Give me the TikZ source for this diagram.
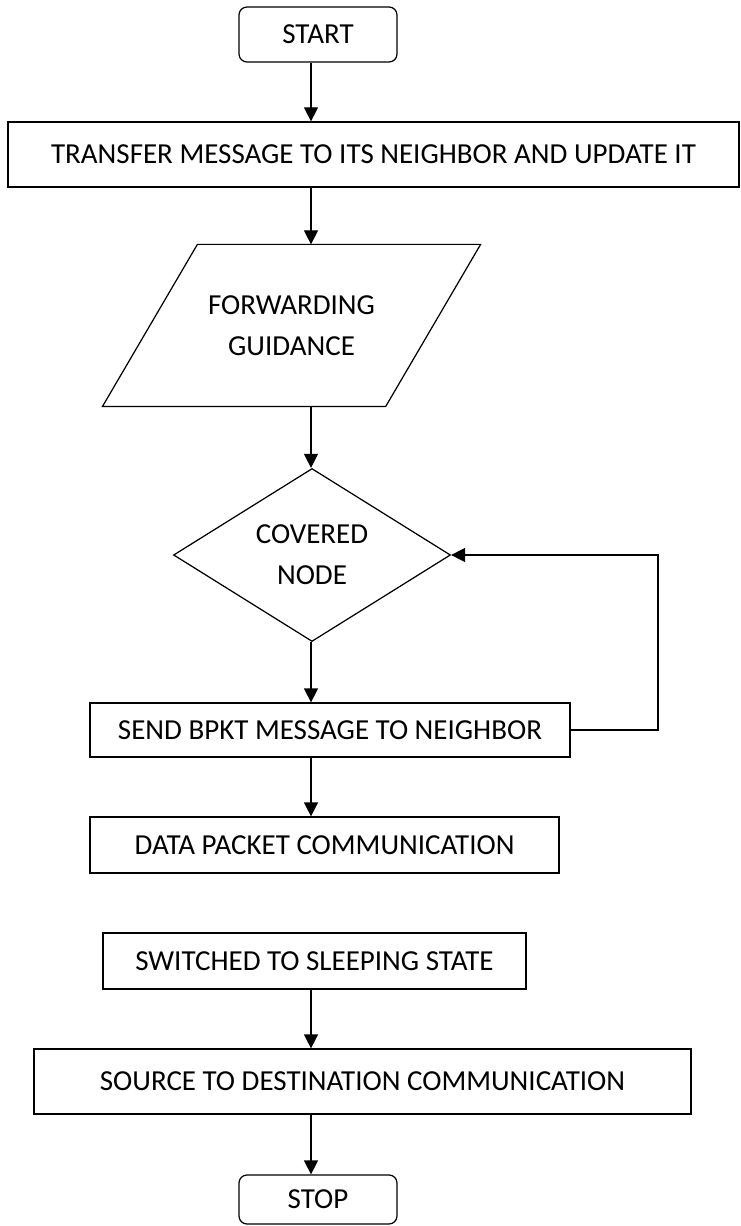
\documentclass[tikz,border=0pt]{standalone}
\usepackage{fontspec}
\setmainfont{Carlito}
\usetikzlibrary{arrows.meta,shapes.geometric,calc}

\begin{document}
\begin{tikzpicture}[> = {Triangle[length=2.8mm, width=2.8mm]}, line width=0.7pt, font=\fontsize{16.5}{23.5}\selectfont]
    % Estilos das caixas
    \tikzstyle{box}=[rectangle, draw, inner sep=0pt, align=center]
    \tikzstyle{term}=[box, rounded corners=1.6mm]
    \tikzstyle{io}=[rectangle, inner sep=0pt, align=center]
    \tikzstyle{decision}=[diamond, draw, aspect=1.6, inner sep=0pt, align=center]

    \useasboundingbox (0,0) rectangle (14.82,-24.52);

    % Caixas
    \node[term, minimum width=3.16cm, minimum height=1.10cm] (start) at (6.36,-0.69) {START};
    \node[box, minimum width=14.62cm, minimum height=1.30cm] (transfer) at (7.47,-3.09) {TRANSFER MESSAGE TO ITS NEIGHBOR AND UPDATE IT};
    \node[io, minimum width=7.54cm, minimum height=3.22cm] (guide) at (5.83,-6.51) {FORWARDING\\GUIDANCE};
    \draw ($(guide.north west)+(1.90,0)$) -- (guide.north east) -- ($(guide.south east)-(1.90,0)$) -- (guide.south west) -- cycle;
    \node[decision, minimum width=5.54cm, minimum height=3.46cm] (cover) at (6.24,-11.10) {COVERED\\NODE};
    \node[box, minimum width=9.60cm, minimum height=1.08cm] (send) at (6.60,-14.60) {SEND BPKT MESSAGE TO NEIGHBOR};
    \node[box, minimum width=9.38cm, minimum height=1.12cm] (data) at (6.49,-16.90) {DATA PACKET COMMUNICATION};
    \node[box, minimum width=8.46cm, minimum height=1.12cm] (sleep) at (6.29,-19.22) {SWITCHED TO SLEEPING STATE};
    \node[box, minimum width=13.14cm, minimum height=1.30cm] (source) at (7.25,-21.63) {SOURCE TO DESTINATION COMMUNICATION};
    \node[term, minimum width=3.16cm, minimum height=0.98cm] (stop) at (6.36,-23.99) {STOP};

    \coordinate (spine) at (6.22,0);
    \coordinate (loop) at (13.16,-11.10);

    % Setas
    \draw[->] (start.south -| spine) -- (transfer.north -| spine);
    \draw[->] (transfer.south -| spine) -- (guide.north -| spine);
    \draw[->] (guide.south -| spine) -- (cover.north -| spine);
    \draw[->] (cover.south -| spine) -- (send.north -| spine);
    \draw[->] (send.south -| spine) -- (data.north -| spine);
    \draw[->] (send.east) -| (loop) -- (cover.east);
    \draw[->] (sleep.south -| spine) -- (source.north -| spine);
    \draw[->] (source.south -| spine) -- (stop.north -| spine);
\end{tikzpicture}
\end{document}
